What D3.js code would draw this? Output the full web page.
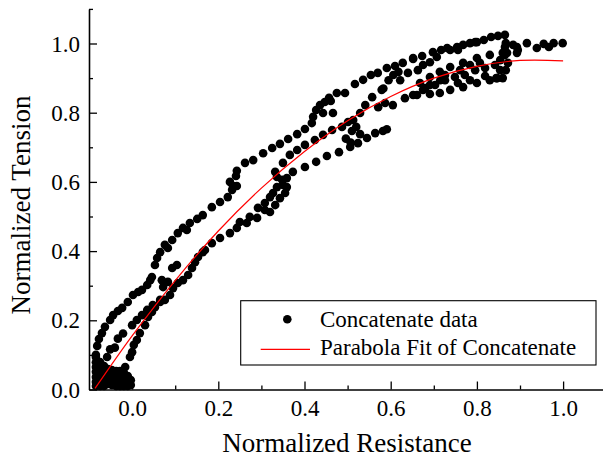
<!DOCTYPE html>
<html>
<head>
<meta charset="utf-8">
<script src="https://cdn.jsdelivr.net/npm/d3@7"></script>
<style>
  html, body { margin: 0; padding: 0; background: #fff; }
  svg { display: block; }
  text { font-family: "Liberation Serif", "Times New Roman", serif; fill: #000; }
</style>
</head>
<body>
<svg id="chart" width="603" height="458"></svg>
<script>
// ---------- data ----------
const xMajorTicks = [0.0, 0.2, 0.4, 0.6, 0.8, 1.0];
const xMinorTicks = [0.1, 0.3, 0.5, 0.7, 0.9, 1.1];
const yMajorTicks = [0.0, 0.2, 0.4, 0.6, 0.8, 1.0];
const yMinorTicks = [0.1, 0.3, 0.5, 0.7, 0.9, 1.1];
const xTitle = "Normalized Resistance";
const yTitle = "Normalized Tension";
const legendLabels = ["Concatenate data", "Parabola Fit of Concatenate"];

// dense cluster of points near the origin
const originCluster = [
  [-0.084,0.094],[-0.084,0.079],[-0.084,0.065],[-0.084,0.051],[-0.084,0.036],[-0.084,0.022],[-0.084,0.010],
  [-0.074,0.079],[-0.074,0.065],[-0.074,0.051],[-0.074,0.036],[-0.074,0.022],[-0.074,0.010],
  [-0.065,0.068],[-0.065,0.053],[-0.065,0.039],[-0.065,0.025],[-0.065,0.010],
  [-0.056,0.059],[-0.056,0.045],[-0.056,0.030],[-0.056,0.016],
  [-0.047,0.056],[-0.047,0.042],[-0.047,0.027],[-0.047,0.013],
  [-0.037,0.053],[-0.037,0.039],[-0.037,0.025],[-0.037,0.010],
  [-0.028,0.053],[-0.028,0.039],[-0.028,0.025],[-0.028,0.010],
  [-0.019,0.048],[-0.019,0.033],[-0.019,0.019],[-0.019,0.010],
  [-0.010,0.039],[-0.010,0.025],[-0.010,0.010],
  [-0.003,0.027],[-0.003,0.013]
];

// upper branch
const upperBand = [
  [-0.084,0.100],[-0.081,0.126],[-0.077,0.146],[-0.070,0.163],[-0.063,0.181],
  [-0.051,0.201],[-0.044,0.215],[-0.033,0.227],[-0.023,0.236],[-0.010,0.253],
  [0.002,0.273],[0.014,0.282],[0.023,0.288],[0.035,0.302],[0.042,0.316],
  [0.046,0.325],[0.053,0.360],[0.058,0.380],[0.065,0.397],[0.076,0.418],
  [0.083,0.409],[0.093,0.432],[0.106,0.452],[0.118,0.467],[0.127,0.461],
  [0.134,0.481],[0.151,0.493],[0.164,0.504],[0.185,0.527],[0.204,0.542],
  [0.222,0.556],[0.232,0.577],[0.227,0.600],[0.234,0.588],[0.243,0.588],
  [0.241,0.617],[0.243,0.632],[0.262,0.655],[0.281,0.663],[0.304,0.683],
  [0.325,0.698],[0.343,0.710],[0.362,0.724],[0.383,0.738],[0.401,0.753],
  [0.417,0.770],[0.420,0.788],[0.427,0.808],[0.436,0.822],[0.447,0.831],
  [0.457,0.843],[0.461,0.834],[0.443,0.799],[0.466,0.799],[0.475,0.857],
  [0.494,0.857],[0.517,0.883],[0.536,0.895],[0.554,0.909],[0.570,0.915],
  [0.591,0.929],[0.610,0.935],[0.628,0.944],[0.652,0.955],[0.673,0.964],
  [0.698,0.975],[0.717,0.981],[0.738,0.981],[0.754,0.990],[0.768,0.996],
  [0.784,1.001],[0.800,1.004],[0.816,1.010],[0.833,1.019],[0.849,1.022],
  [0.865,1.025]
];

// right-hand tail
const rightTail = [
  [0.884,0.996],[0.893,0.973],[0.916,1.001],[0.939,0.987],[0.955,0.999],
  [0.967,0.990],[0.978,1.001],[0.999,1.001]
];

// middle branch
const middleBand = [
  [-0.058,0.094],[-0.051,0.116],[-0.040,0.121],[-0.033,0.147],[-0.021,0.162],
  [0.000,0.186],[0.011,0.201],[0.023,0.215],[0.035,0.230],[0.048,0.244],
  [0.065,0.259],[0.076,0.259],[0.088,0.273],[0.095,0.293],[0.106,0.308],
  [0.118,0.316],[0.130,0.331],[0.139,0.351],[0.146,0.368],[0.153,0.383],
  [0.164,0.397],[0.169,0.403],[0.185,0.423],[0.204,0.438],[0.227,0.452],
  [0.243,0.467],[0.250,0.484],[0.266,0.481],[0.273,0.499],[0.290,0.496],
  [0.292,0.525],[0.308,0.539],[0.320,0.556],[0.327,0.568],[0.336,0.585],
  [0.348,0.606],[0.359,0.585],[0.355,0.568],[0.336,0.614],[0.332,0.629],
  [0.350,0.655],[0.366,0.678],[0.383,0.692],[0.401,0.707],[0.424,0.721],
  [0.443,0.736],[0.464,0.750],[0.487,0.759],[0.501,0.773],[0.513,0.779],
  [0.529,0.799],[0.541,0.822],[0.557,0.845],[0.571,0.816],[0.587,0.828],
  [0.605,0.822],[0.633,0.842],[0.652,0.851],[0.675,0.866],[0.691,0.880],
  [0.715,0.894],
  [0.308,0.519],[0.320,0.513],[0.332,0.533],[0.343,0.553],[0.359,0.611],[0.350,0.591]
];

// connector strokes near x = 0.6
const connector = [
  [0.579,0.866],[0.583,0.870],[0.595,0.894],[0.606,0.909],[0.618,0.918],
  [0.622,0.894],[0.640,0.915],[0.663,0.923],[0.675,0.938],[0.691,0.946],
  [0.707,0.961],[0.652,0.958]
];

// lower branch (left part)
const lowerBand = [
  [-0.016,0.065],[-0.005,0.094],[0.000,0.108],[0.004,0.129],[0.011,0.143],
  [0.018,0.163],[0.030,0.186],[0.037,0.210],[0.046,0.224],[0.053,0.238],
  [0.065,0.253],[0.069,0.316],[0.072,0.296],[0.083,0.311],[0.093,0.351],
  [0.104,0.360]
];

// lower branch (right part)
const lowerBand2 = [
  [0.373,0.629],[0.401,0.643],[0.427,0.658],[0.452,0.675],[0.480,0.686],
  [0.506,0.701],[0.524,0.712],[0.545,0.727],[0.564,0.741],[0.582,0.747],
  [0.591,0.752],[0.510,0.747],[0.520,0.759],[0.529,0.738],[0.496,0.725],
  [0.507,0.714]
];

// dense region near the top right
const denseRegion = [
  [0.661,0.851],[0.691,0.854],[0.714,0.857],[0.738,0.866],[0.768,0.874],
  [0.800,0.886],[0.830,0.894],[0.847,0.900],[0.854,0.923],
  [0.668,0.886],[0.691,0.903],[0.714,0.918],[0.738,0.932],[0.768,0.944],
  [0.800,0.958],[0.830,0.967],[0.860,0.973],
  [0.680,0.871],[0.703,0.880],[0.726,0.894],[0.749,0.903],[0.772,0.909],
  [0.796,0.923],[0.819,0.929],[0.842,0.938],[0.726,0.909],[0.761,0.923],
  [0.784,0.938],[0.807,0.944],[0.854,0.952],[0.865,0.967],[0.756,0.886],
  [0.784,0.894],[0.819,0.906],[0.872,0.944],[0.867,0.923],[0.860,0.900],
  [0.731,0.987],[0.756,0.981],[0.796,1.004],[0.867,1.001],[0.865,0.990],
  [0.870,0.973],[0.893,0.990],[0.895,0.981],[0.845,0.900]
];

// parabola fit
const fitX = [-0.086, 0.0, 0.1, 0.2, 0.3, 0.4, 0.5, 0.6, 0.7, 0.8, 0.9, 1.0];
const fitY = [0.003, 0.155, 0.315, 0.458, 0.582, 0.688, 0.777, 0.847, 0.900, 0.934, 0.951, 0.950];

// ---------- drawing ----------
const FONT = '"Liberation Serif", "Times New Roman", serif';
const svg = d3.select("#chart");
svg.append("rect").attr("width", 603).attr("height", 458).attr("fill", "#fff");

const x = d3.scaleLinear().domain([-0.1, 1.1]).range([89, 606.2]);
const y = d3.scaleLinear().domain([0, 1.1]).range([389.5, 8.9]);

const allPoints = [].concat(originCluster, upperBand, rightTail, middleBand,
  connector, lowerBand, lowerBand2, denseRegion);

svg.append("g").selectAll("circle").data(allPoints).join("circle")
  .attr("cx", d => x(d[0])).attr("cy", d => y(d[1]))
  .attr("r", 4.3).attr("fill", "#000");

const fitData = fitX.map((v, i) => [v, fitY[i]]);
svg.append("path").datum(fitData)
  .attr("fill", "none").attr("stroke", "#ff0000").attr("stroke-width", 1.2)
  .attr("d", d3.line().x(d => x(d[0])).y(d => y(d[1])).curve(d3.curveCatmullRom));

// axes
const fmt = d3.format(".1f");
const xAxisG = svg.append("g").attr("transform", `translate(0,${y(0)})`)
  .call(d3.axisBottom(x).tickValues(xMajorTicks).tickFormat(fmt).tickSize(-8).tickSizeOuter(0));
svg.append("g").attr("transform", `translate(0,${y(0)})`)
  .call(d3.axisBottom(x).tickValues(xMinorTicks).tickFormat("").tickSize(-4).tickSizeOuter(0))
  .select(".domain").remove();

const yAxisG = svg.append("g").attr("transform", `translate(${x(-0.1)},0)`)
  .call(d3.axisLeft(y).tickValues(yMajorTicks).tickFormat(fmt).tickSize(-8).tickSizeOuter(0));
svg.append("g").attr("transform", `translate(${x(-0.1)},0)`)
  .call(d3.axisLeft(y).tickValues(yMinorTicks).tickFormat("").tickSize(-4).tickSizeOuter(0))
  .select(".domain").remove();

xAxisG.attr("font-family", FONT).attr("font-size", 23);
yAxisG.attr("font-family", FONT).attr("font-size", 23);

svg.selectAll(".domain").attr("stroke", "#000").attr("stroke-width", 1.6);
svg.selectAll(".tick line").attr("stroke", "#000").attr("stroke-width", 1.3);

xAxisG.selectAll(".tick text")
  .attr("y", 26.5).attr("dy", null)
  .attr("font-family", FONT).attr("font-size", 23).attr("fill", "#000");
yAxisG.selectAll(".tick text")
  .attr("x", -9).attr("dy", "0.33em")
  .attr("font-family", FONT).attr("font-size", 23).attr("fill", "#000");

// axis titles
svg.append("text").attr("x", 347).attr("y", 452).attr("text-anchor", "middle")
  .attr("font-family", FONT).attr("font-size", 27).text(xTitle);
svg.append("text").attr("transform", "translate(30,205) rotate(-90)")
  .attr("text-anchor", "middle").attr("font-family", FONT).attr("font-size", 27).text(yTitle);

// legend
const lg = svg.append("g").attr("font-family", FONT).attr("font-size", 23);
lg.append("rect").attr("x", 240.7).attr("y", 300.7).attr("width", 355.3).attr("height", 64.3)
  .attr("fill", "#fff").attr("stroke", "#000").attr("stroke-width", 1.1);
lg.append("circle").attr("cx", 287.3).attr("cy", 319.3).attr("r", 4.3).attr("fill", "#000");
lg.append("line").attr("x1", 260.7).attr("x2", 310).attr("y1", 349.3).attr("y2", 349.3)
  .attr("stroke", "#ff0000").attr("stroke-width", 1.2);
lg.append("text").attr("x", 320).attr("y", 326.7).text(legendLabels[0]);
lg.append("text").attr("x", 320).attr("y", 355).text(legendLabels[1]);
</script>
</body>
</html>
